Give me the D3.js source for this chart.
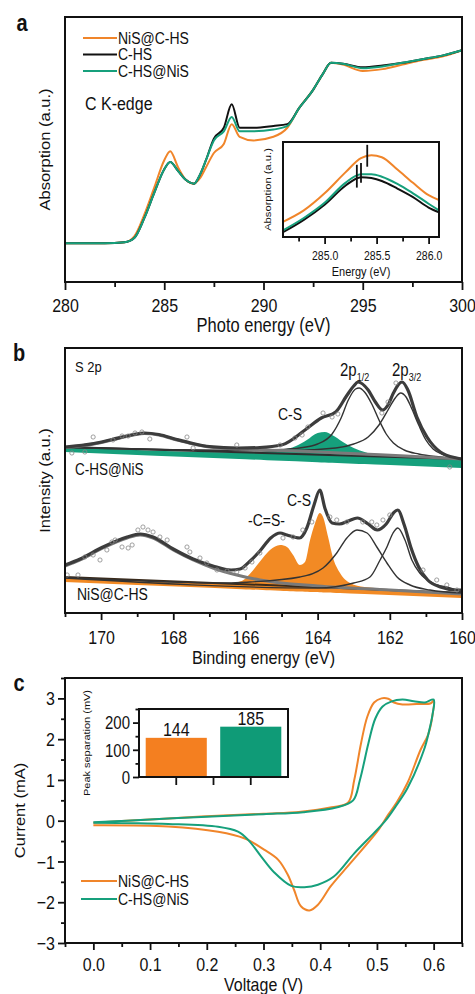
<!DOCTYPE html>
<html><head><meta charset="utf-8">
<script src="https://cdn.jsdelivr.net/npm/d3@7"></script>
<style>body{margin:0;background:#fff} svg{display:block;font-family:"Liberation Sans",Arial,sans-serif}</style>
</head><body><svg id="c" width="475" height="994"></svg>
<script>
// ---------------- DATA ----------------
// Panel a: C K-edge XANES
const xanesE      = [280,282,283,283.5,284,284.5,285,285.3,285.7,286.1,286.5,286.8,287.1,287.5,288,288.4,288.8,289.5,290.5,291.2,291.8,292.5,293,293.4,294,295,296,297,298,299,300];
const xanesNiSCHS = [0,0,0.005,0.04,0.16,0.31,0.46,0.51,0.42,0.35,0.33,0.36,0.42,0.50,0.55,0.66,0.59,0.57,0.59,0.64,0.75,0.85,0.94,1.0,0.99,0.955,0.965,0.99,1.015,1.035,1.07];
const xanesCHS    = [0,0,0.005,0.03,0.14,0.28,0.41,0.45,0.40,0.35,0.33,0.38,0.46,0.58,0.64,0.77,0.64,0.64,0.65,0.66,0.75,0.85,0.94,1.0,0.995,0.975,0.985,1.0,1.02,1.04,1.07];
const xanesCHSNiS = [0,0,0.005,0.03,0.14,0.28,0.41,0.45,0.40,0.35,0.33,0.38,0.46,0.57,0.62,0.70,0.62,0.62,0.63,0.65,0.75,0.85,0.94,1.0,0.995,0.97,0.98,1.0,1.02,1.04,1.07];
const xanesTicks = [280,285,290,295,300];
const xanesMinor = [282.5,287.5,292.5,297.5];
// inset
const insetE      = [284.6,284.8,285.0,285.2,285.35,285.45,285.55,285.7,285.85,286.0,286.1];
const insetNiSCHS = [0.16,0.28,0.46,0.68,0.83,0.86,0.84,0.71,0.57,0.44,0.39];
const insetCHS    = [0.05,0.18,0.34,0.54,0.63,0.62,0.59,0.51,0.42,0.31,0.26];
const insetCHSNiS = [0.07,0.20,0.36,0.57,0.66,0.66,0.635,0.56,0.46,0.35,0.28];
const insetMarkE  = [285.31,285.35,285.41];
const insetMarkLo = [0.52,0.57,0.74];
const insetMarkHi = [0.76,0.78,0.97];
const insetTicks = [285.0,285.5,286.0];
const insetMinor = [284.75,285.25,285.75];
const seriesNames = ["NiS@C-HS","C-HS","C-HS@NiS"];

// Panel b: S 2p XPS (intensity a.u.), [binding energy, intensity]
const topBg      = [[171,166],[160,154]];
const topBand    = [[171,161],[160,145]];
const topCS      = [[171,166],[166,160.5],[165.4,161.5],[165.0,163],[164.6,167],[164.3,173],[164.0,180],[163.8,181],[163.6,178],[163.3,171],[163.0,165],[162.7,161],[162.4,158],[162.0,156.5],[160,154]];
const top2p12    = [[171,166],[166,162.5],[165,163.5],[164.5,165],[164.0,169],[163.6,179],[163.35,195],[163.15,213],[162.95,224],[162.85,225],[162.7,221],[162.5,209],[162.3,193],[162.1,179],[161.9,170],[161.6,163],[161.2,159],[160.6,156],[160,154]];
const top2p32    = [[171,165.5],[165,162],[163.5,165],[163,169],[162.6,176],[162.3,188],[162.05,203],[161.85,215],[161.7,220],[161.55,216],[161.4,205],[161.2,188],[161.0,173],[160.8,164],[160.5,158],[160,154]];
const topHump    = [[171,165.5],[170.2,169],[169.7,173],[169.1,178],[168.8,179.5],[168.4,178],[167.9,173],[167.45,169],[167,166],[166.2,164],[165,162.5],[160,154]];
const topEnv     = [[171,166],[170.2,169.5],[169.7,173.5],[169.1,178.5],[168.8,180],[168.4,178.5],[167.9,173.5],[167.45,169.5],[167,166.5],[166.2,165],[165.6,165.5],[165.0,168],[164.35,183],[163.9,195],[163.5,201],[163.2,217],[163.0,227],[162.88,231],[162.6,223],[162.4,211],[162.2,203],[162.05,208],[161.9,220],[161.66,231],[161.5,223],[161.25,196],[160.97,176],[160.6,161],[160.15,155],[160,154]];
const topPts     = [[170.81,160],[170.45,161],[170.22,176],[169.67,173],[169.42,177],[169.25,177],[169.06,180],[168.87,181],[168.65,174],[167.62,176],[167.45,165],[166.24,168],[165.04,168],[164.63,175],[164.43,178],[164.27,186],[163.85,200],[163.60,196],[163.44,199],[162.22,200],[162.05,211],[161.83,230],[160.34,146]];
const lowBg      = [[171,36],[160,20]];
const lowBand    = [[171,31],[160,15]];
const lowCS      = [[171,35.5],[167,30],[166.4,30],[166.1,32],[165.88,39],[165.52,55],[165.32,63],[165.04,68],[164.85,66],[164.68,58],[164.49,48],[164.35,51],[164.21,73],[164.07,90],[163.94,100],[163.85,96],[163.71,76],[163.58,56],[163.38,40],[163.1,30],[162.7,26],[160,20]];
const low2p12    = [[171,35.5],[166.5,30],[165.88,31],[164.49,36],[163.85,45],[163.47,60],[163.19,75],[162.91,83],[162.63,80],[162.36,66],[162.08,50],[161.8,36],[161.44,28],[160.89,23],[160,20]];
const low2p32    = [[171,35],[164,25],[163,30],[162.55,36],[162.27,53],[162.08,66],[161.91,80],[161.78,85],[161.58,73],[161.39,53],[161.17,40],[160.81,30],[160.33,25],[160,21]];
const lowHump    = [[171,47],[170.58,53],[169.95,65],[169.28,75],[168.92,78],[168.56,75],[168.0,63],[167.45,53],[166.9,45],[166.24,38],[165.6,33],[164,27],[162,23],[160,19]];
const lowEnv     = [[171,48],[170.58,54],[169.95,66],[169.28,76],[168.92,79],[168.56,76],[168.0,64],[167.45,54],[166.9,47],[166.4,43],[166.15,44],[165.9,51],[165.6,62],[165.3,75],[165.04,80],[164.85,78],[164.5,75],[164.3,85],[164.1,108],[163.94,123],[163.8,105],[163.6,90],[163.4,89],[163.15,92],[162.9,95],[162.6,89],[162.35,83],[162.1,89],[161.9,100],[161.78,103],[161.6,88],[161.42,66],[161.2,46],[160.95,33],[160.6,26],[160.15,23],[160,23]];
const lowPts     = [[170.94,38],[170.64,38],[170.45,56],[170.22,58],[170.03,53],[169.84,63],[169.70,71],[169.61,73],[169.42,66],[169.25,65],[169.14,68],[168.98,83],[168.84,86],[168.70,83],[168.56,81],[168.37,76],[168.17,73],[167.62,66],[167.54,61],[167.26,55],[167.07,50],[166.79,43],[166.51,42],[166.24,41],[166.01,45],[165.82,51],[165.60,60],[164.96,75],[164.68,76],[164.41,83],[164.16,91],[163.66,96],[163.47,93],[163.19,91],[162.75,91],[162.50,91],[162.36,88],[162.19,93],[162.0,98],[161.08,43],[160.70,33],[160.42,28],[160.14,23]];
const xpsTicks = [170,168,166,164,162,160];
const xpsMinor = [171,169,167,165,163,161];

// Panel c: CV loops [voltage V, current mA]
const cvNiSCHS = [[0,-0.05],[0.1,0.03],[0.19,0.1],[0.3,0.17],[0.366,0.22],[0.42,0.33],[0.449,0.44],[0.46,1.0],[0.472,1.9],[0.483,2.55],[0.495,2.9],[0.508,3.0],[0.52,2.99],[0.53,2.9],[0.545,2.85],[0.57,2.86],[0.595,2.88],[0.6,2.95],
  [0.597,2.5],[0.59,2.1],[0.577,1.74],[0.554,0.93],[0.535,0.45],[0.52,0.15],[0.504,-0.2],[0.454,-1.03],[0.419,-1.6],[0.396,-2.06],[0.381,-2.2],[0.366,-2.1],[0.354,-1.7],[0.343,-1.33],[0.326,-0.96],[0.301,-0.71],[0.266,-0.43],[0.22,-0.27],[0.132,-0.14],[0,-0.11]];
const cvCHSNiS = [[0,-0.04],[0.1,0.03],[0.19,0.09],[0.3,0.16],[0.37,0.21],[0.43,0.33],[0.458,0.5],[0.47,1.0],[0.485,1.9],[0.497,2.5],[0.51,2.8],[0.525,2.92],[0.545,2.97],[0.565,2.93],[0.585,2.9],[0.6,2.97],
  [0.598,2.6],[0.592,2.2],[0.583,1.74],[0.554,0.8],[0.533,0.35],[0.515,0.0],[0.495,-0.3],[0.46,-0.8],[0.424,-1.37],[0.396,-1.57],[0.372,-1.63],[0.349,-1.6],[0.319,-1.27],[0.296,-0.88],[0.273,-0.47],[0.255,-0.27],[0.22,-0.15],[0.132,-0.08],[0,-0.05]];
const cvXTicks = [0,0.1,0.2,0.3,0.4,0.5,0.6];
const cvXMinor = [-0.05,0.05,0.15,0.25,0.35,0.45,0.55,0.65];
const cvYTicks = [-3,-2,-1,0,1,2,3];
const cvYMinor = [-2.5,-1.5,-0.5,0.5,1.5,2.5,3.5];
const barCats = ["NiS@C-HS","C-HS@NiS"];
const barVals = [144,185];
const barYTicks = [0,100,200];
const barYMinor = [50,150,250];

// ---------------- STYLE ----------------
const ORANGE = "#f0852a", GREEN = "#16a07c", BLACK = "#111";
const seriesColors = [ORANGE, BLACK, GREEN];
const SY = 1.18;   // vertical stretch of the reference
const svg = d3.select("#c");

function T(x, y, s, fs, opt = {}) {
  const t = svg.append("text")
    .attr("transform", `translate(${x},${y}) scale(1,${SY})${opt.rot ? " rotate(-90)" : ""}`)
    .attr("font-size", fs).attr("text-anchor", opt.anchor || "start")
    .attr("dy", "0.35em").attr("fill", "#111");
  if (opt.bold) t.attr("font-weight", "bold");
  t.text(s);
  return t;
}
function styleAxis(g, fs) {
  g.select(".domain").remove();
  g.selectAll("line").attr("stroke", "#111").attr("stroke-width", 1.8);
  g.attr("font-size", fs).attr("font-family", '"Liberation Sans",Arial,sans-serif');
}
function bottomAxis(scale, y, majors, minors, fmt, fs, labelOff, maj = 7, min = 4) {
  const g = svg.append("g").attr("transform", `translate(0,${y})`)
    .call(d3.axisBottom(scale).tickValues(majors).tickSize(maj).tickFormat(fmt));
  styleAxis(g, fs);
  g.selectAll("text").attr("y", labelOff / SY).attr("dy", "0.35em")
    .attr("transform", `scale(1,${SY})`).attr("fill", "#111");
  const g2 = svg.append("g").attr("transform", `translate(0,${y})`)
    .call(d3.axisBottom(scale).tickValues(minors).tickSize(min).tickFormat(""));
  styleAxis(g2, fs);
}
function leftAxis(scale, x, majors, minors, fmt, fs, maj = 7, min = 4) {
  const g = svg.append("g").attr("transform", `translate(${x},0)`)
    .call(d3.axisLeft(scale).tickValues(majors).tickSize(maj).tickPadding(3).tickFormat(fmt));
  styleAxis(g, fs);
  g.selectAll("text").attr("dy", "0.35em").attr("transform", `scale(1,${SY})`).attr("y", 0).attr("fill", "#111");
  const g2 = svg.append("g").attr("transform", `translate(${x},0)`)
    .call(d3.axisLeft(scale).tickValues(minors).tickSize(min).tickFormat(""));
  styleAxis(g2, fs);
}
function frame(x0, y0, x1, y1, w = 2) {
  svg.append("rect").attr("x", x0).attr("y", y0).attr("width", x1 - x0).attr("height", y1 - y0)
    .attr("fill", "none").attr("stroke", "#111").attr("stroke-width", w);
}

// ================= PANEL A =================
const A = { l: 65, r: 462, t: 17, b: 282 };
const xA = d3.scaleLinear().domain([280, 300]).range([A.l, A.r]);
const yA = d3.scaleLinear().domain([-0.215, 1.254]).range([A.b, A.t]);
const lineA = d3.line().x(d => xA(d[0])).y(d => yA(d[1])).curve(d3.curveMonotoneX);
const xanesSeries = [xanesNiSCHS, xanesCHS, xanesCHSNiS];
[0, 1, 2].forEach(i => {
  svg.append("path").datum(xanesE.map((e, k) => [e, xanesSeries[i][k]]))
    .attr("d", lineA).attr("fill", "none").attr("stroke", seriesColors[i]).attr("stroke-width", 2);
});
const legY = [38, 54.5, 71];
seriesNames.forEach((n, i) => {
  svg.append("line").attr("x1", 83).attr("x2", 117).attr("y1", legY[i]).attr("y2", legY[i])
    .attr("stroke", seriesColors[i]).attr("stroke-width", 2.2);
  T(118, legY[i], n, 14);
});
T(85, 103, "C K-edge", 16);
bottomAxis(xA, A.b, xanesTicks, xanesMinor, d3.format("d"), 16, 23, 8, 5);
T((A.l + A.r) / 2, 325, "Photo energy (eV)", 16.5, { anchor: "middle" });
T(45, (A.t + A.b) / 2, "Absorption (a.u.)", 14, { anchor: "middle", rot: true });
frame(A.l, A.t, A.r, A.b);
T(22, 23, "a", 20, { anchor: "middle", bold: true });

// inset
const I = { l: 283, r: 439, t: 142, b: 237 };
svg.append("rect").attr("x", I.l).attr("y", I.t).attr("width", I.r - I.l).attr("height", I.b - I.t).attr("fill", "#fff");
const xI = d3.scaleLinear().domain([284.6, 286.1]).range([I.l, I.r]);
const yI = d3.scaleLinear().domain([0, 1]).range([I.b, I.t]);
const lineI = d3.line().x(d => xI(d[0])).y(d => yI(d[1])).curve(d3.curveMonotoneX);
const insetSeries = [insetNiSCHS, insetCHS, insetCHSNiS];
[0, 1, 2].forEach(i => {
  svg.append("path").datum(insetE.map((e, k) => [e, insetSeries[i][k]]))
    .attr("d", lineI).attr("fill", "none").attr("stroke", seriesColors[i]).attr("stroke-width", 2);
});
insetMarkE.forEach((e, k) => {
  svg.append("line").attr("x1", xI(e)).attr("x2", xI(e)).attr("y1", yI(insetMarkLo[k])).attr("y2", yI(insetMarkHi[k]))
    .attr("stroke", "#111").attr("stroke-width", 1.8);
});
bottomAxis(xI, I.b, insetTicks, insetMinor, d3.format(".1f"), 10.5, 19, 7, 4.5);
T((I.l + I.r) / 2, 271, "Energy (eV)", 11, { anchor: "middle" });
T(268, (I.t + I.b) / 2, "Absorption (a.u.)", 9.5, { anchor: "middle", rot: true });
frame(I.l, I.t, I.r, I.b, 2);

// ================= PANEL B =================
const B = { l: 65, r: 462, t: 348, b: 613 };
const xB = d3.scaleLinear().domain([171, 160]).range([B.l, B.r]);
const yB = d3.scaleLinear().domain([0, 265]).range([B.b, B.t]);
const lineB = d3.line().x(d => xB(d[0])).y(d => yB(d[1])).curve(d3.curveMonotoneX);
function bandFill(top, band, color) {
  const low = d3.scaleLinear().domain(band.map(d => d[0])).range(band.map(d => d[1]));
  const area = d3.area().x(d => xB(d[0])).y0(d => yB(low(d[0]))).y1(d => yB(d[1])).curve(d3.curveMonotoneX);
  svg.append("path").datum(top).attr("d", area).attr("fill", color);
}
function drawLine(data, color, w) {
  svg.append("path").datum(data).attr("d", lineB).attr("fill", "none").attr("stroke", color).attr("stroke-width", w);
}
function drawPts(pts) {
  svg.append("g").selectAll("circle").data(pts).join("circle")
    .attr("cx", d => xB(d[0])).attr("cy", d => yB(d[1])).attr("r", 2.1)
    .attr("fill", "none").attr("stroke", "#888").attr("stroke-width", 0.8);
}
bandFill(topCS, topBand, "#16a07c");
drawLine(topBg, "#2e2e2e", 2);
drawLine(top2p12, "#333", 1.4);
drawLine(top2p32, "#333", 1.4);
drawLine(topHump, "#7a7a7a", 3);
drawLine(topEnv, "#3c3c3c", 3.2);
drawPts(topPts);
bandFill(lowCS, lowBand, "#f28a24");
drawLine(lowBg, "#3a2a1a", 2);
drawLine(lowHump, "#7a7a7a", 3);
drawLine(low2p12, "#333", 1.4);
drawLine(low2p32, "#333", 1.4);
drawLine(lowEnv, "#3c3c3c", 3.2);
drawPts(lowPts);

T(75, 367, "S 2p", 13);
T(75, 469, "C-HS@NiS", 13.5);
T(77, 594, "NiS@C-HS", 14);
T(278, 414, "C-S", 14);
T(287, 500, "C-S", 14);
T(248, 520, "-C=S-", 14);
[["2p", "1/2", 340], ["2p", "3/2", 392]].forEach(([a, s, x]) => {
  const t = T(x, 370, a, 15);
  t.append("tspan").attr("font-size", 9).attr("dy", "0.45em").text(s);
});
bottomAxis(xB, B.b, xpsTicks, xpsMinor, d3.format("d"), 16, 24, 7, 4);
T((B.l + B.r) / 2, 657, "Binding energy (eV)", 16.2, { anchor: "middle" });
T(45, (B.t + B.b) / 2, "Intensity (a.u.)", 14, { anchor: "middle", rot: true });
frame(B.l, B.t, B.r, B.b);
T(19, 353, "b", 20, { anchor: "middle", bold: true });

// ================= PANEL C =================
const C = { l: 65, r: 462, t: 678, b: 943 };
const xC = d3.scaleLinear().domain([-0.05, 0.65]).range([C.l, C.r]);
const yC = d3.scaleLinear().domain([-3, 3.5]).range([C.b, C.t]);
const lineC = d3.line().x(d => xC(d[0])).y(d => yC(d[1])).curve(d3.curveCatmullRom.alpha(0.5));
svg.append("path").datum(cvNiSCHS).attr("d", lineC).attr("fill", "none").attr("stroke", ORANGE).attr("stroke-width", 2);
svg.append("path").datum(cvCHSNiS).attr("d", lineC).attr("fill", "none").attr("stroke", GREEN).attr("stroke-width", 2);
[[0, 881], [2, 899]].forEach(([i, y]) => {
  svg.append("line").attr("x1", 81).attr("x2", 117).attr("y1", y).attr("y2", y)
    .attr("stroke", seriesColors[i]).attr("stroke-width", 2.2);
  T(118, y, seriesNames[i], 14);
});
bottomAxis(xC, C.b, cvXTicks, cvXMinor, d3.format(".1f"), 16, 21, 7, 4);
leftAxis(yC, C.l, cvYTicks, cvYMinor, d3.format("d"), 16, 7, 4);
T((C.l + C.r) / 2, 984, "Voltage (V)", 16, { anchor: "middle" });
T(20, (C.t + C.b) / 2, "Current (mA)", 14, { anchor: "middle", rot: true });
frame(C.l, C.t, C.r, C.b);
T(19, 683, "c", 20, { anchor: "middle", bold: true });

// bar inset
const P = { l: 139, r: 288, t: 709, b: 777 };
const xP = d3.scaleBand().domain(barCats).range([P.l, P.r]).paddingInner(0.18).paddingOuter(0.09);
const yP = d3.scaleLinear().domain([0, 250]).range([P.b, P.t]);
svg.append("g").selectAll("rect").data(barCats).join("rect")
  .attr("x", d => xP(d)).attr("width", xP.bandwidth())
  .attr("y", (d, i) => yP(barVals[i])).attr("height", (d, i) => P.b - yP(barVals[i]))
  .attr("fill", (d, i) => i === 0 ? "#f47f20" : "#0f9b77");
barCats.forEach((c, i) => {
  T(xP(c) + xP.bandwidth() / 2, yP(barVals[i]) - 8, String(barVals[i]), 16, { anchor: "middle" });
});
const gpx = svg.append("g").attr("transform", `translate(0,${P.b})`)
  .call(d3.axisBottom(xP).tickSize(8).tickFormat(""));
styleAxis(gpx, 10);
const midX = (xP(barCats[0]) + xP.bandwidth() + xP(barCats[1])) / 2;
svg.append("line").attr("x1", midX).attr("x2", midX).attr("y1", P.b).attr("y2", P.b + 8).attr("stroke", "#111").attr("stroke-width", 1.8);
leftAxis(yP, P.l, barYTicks, barYMinor, d3.format("d"), 15, 6, 3.5);
T(87, (P.t + P.b) / 2, "Peak separation (mV)", 9.3, { anchor: "middle", rot: true });
frame(P.l, P.t, P.r, P.b, 2);
</script></body></html>
